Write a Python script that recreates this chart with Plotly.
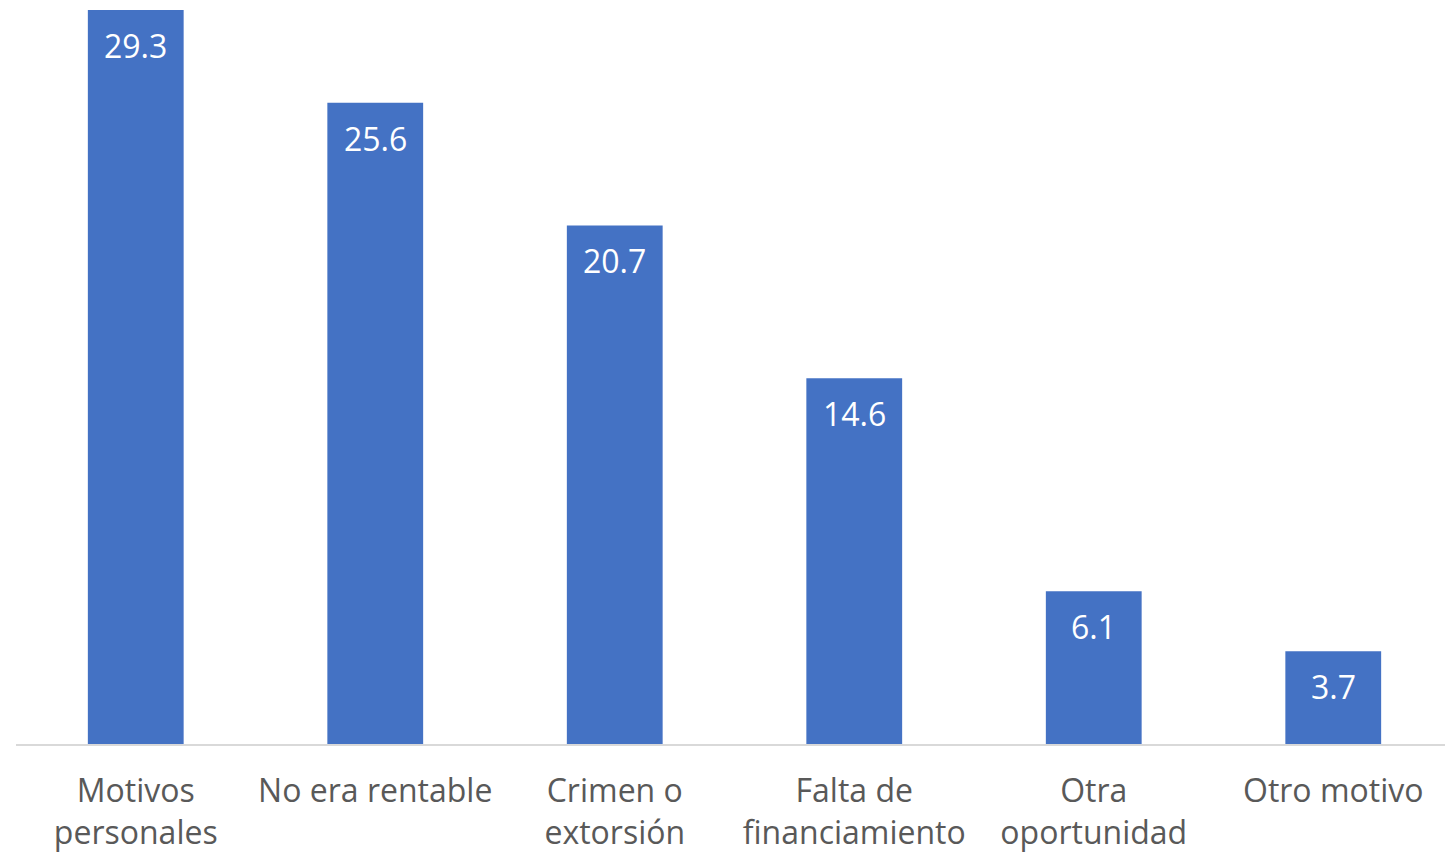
import plotly.graph_objects as go

categories = ["Motivos<br>personales", "No era rentable", "Crimen o<br>extorsión",
              "Falta de<br>financiamiento", "Otra<br>oportunidad", "Otro motivo"]
values = [29.3, 25.6, 20.7, 14.6, 6.1, 3.7]

fig = go.Figure()
fig.add_trace(go.Bar(
    x=categories,
    y=values,
    marker=dict(color="#4472C4", line=dict(width=0)),
    width=0.4,
))

# value labels inside top of each bar
for c, v in zip(categories, values):
    fig.add_annotation(
        x=c, y=v, text=f"{v:.1f}", showarrow=False,
        yanchor="top", yshift=-12,
        font=dict(family="Open Sans", size=32, color="white"),
    )

fig.update_layout(
    width=1453, height=855,
    margin=dict(l=8, r=8, t=2, b=119),
    plot_bgcolor="white", paper_bgcolor="white",
    showlegend=False,
    font=dict(family="Open Sans", size=32, color="#595959"),
    xaxis=dict(
        showline=True, linecolor="#D9D9D9", linewidth=2,
        ticks="", showgrid=False,
        tickfont=dict(family="Open Sans", size=32, color="#595959"),
        ticklabelstandoff=18,
    ),
    yaxis=dict(
        range=[0, 29.3], visible=False, showgrid=False,
    ),
)

fig.write_html("out.html")
